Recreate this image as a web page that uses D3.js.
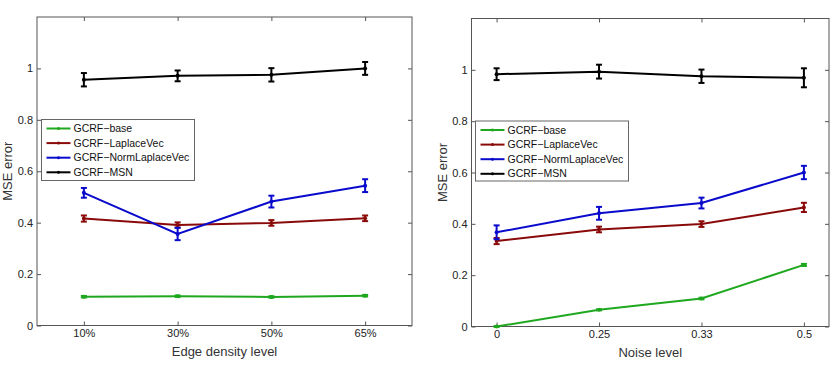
<!DOCTYPE html>
<html>
<head>
<meta charset="utf-8">
<script src="https://cdn.jsdelivr.net/npm/d3@7"></script>
<style>
  body { margin: 0; background: #fff; }
  svg { display: block; font-family: "Liberation Sans", Arial, sans-serif; }
</style>
</head>
<body>
<div id="chart"></div>
<script>
// Series names and colours (shared by both panels)
const seriesNames = ["GCRF\u2212base", "GCRF\u2212LaplaceVec", "GCRF\u2212NormLaplaceVec", "GCRF\u2212MSN"];
const seriesColors = ["#1fa81f", "#8a0a0a", "#0a0acc", "#000000"];
const yTicks = [0, 0.2, 0.4, 0.6, 0.8, 1];

// Left panel: edge density
const densityLabels = ["10%", "30%", "50%", "65%"];
const densityMean = [
  [0.112, 0.114, 0.111, 0.116],
  [0.416, 0.391, 0.399, 0.417],
  [0.516, 0.356, 0.482, 0.544],
  [0.956, 0.971, 0.975, 1.000]
];
const densityErr = [
  [0.003, 0.003, 0.003, 0.003],
  [0.012, 0.010, 0.011, 0.011],
  [0.019, 0.024, 0.023, 0.025],
  [0.026, 0.021, 0.026, 0.025]
];

// Right panel: noise level
const noiseLabels = ["0", "0.25", "0.33", "0.5"];
const noiseMean = [
  [0.000, 0.065, 0.109, 0.240],
  [0.333, 0.378, 0.399, 0.464],
  [0.367, 0.441, 0.481, 0.600],
  [0.983, 0.993, 0.975, 0.969]
];
const noiseErr = [
  [0.002, 0.002, 0.003, 0.004],
  [0.012, 0.011, 0.011, 0.018],
  [0.027, 0.025, 0.021, 0.026],
  [0.023, 0.027, 0.026, 0.037]
];

const svg = d3.select("#chart").append("svg")
  .attr("width", 830)
  .attr("height", 367);

function drawPanel(opt) {
  const { left, right, top, bottom, labels, mean, err, xDomain, xTitle, legendBox } = opt;
  const g = svg.append("g");
  const width = right - left;
  const height = bottom - top;

  const x = d3.scaleLinear().domain(xDomain).range([left, right]);
  const y = d3.scaleLinear().domain([0, 1.2]).range([bottom, top]);
  const idx = labels.map((d, i) => i + 1);
  const axisColor = "#555";
  const tickLen = 4;

  // inward ticks on all four sides
  g.append("g")
    .attr("transform", `translate(0,${bottom})`)
    .call(d3.axisBottom(x).tickValues(idx).tickSizeInner(-tickLen).tickSizeOuter(0)
      .tickPadding(4).tickFormat((d, i) => labels[i]))
    .call(a => a.select(".domain").remove());
  g.append("g")
    .attr("transform", `translate(0,${top})`)
    .call(d3.axisTop(x).tickValues(idx).tickSizeInner(-tickLen).tickSizeOuter(0).tickFormat(""))
    .call(a => a.select(".domain").remove());
  g.append("g")
    .attr("transform", `translate(${left},0)`)
    .call(d3.axisLeft(y).tickValues(yTicks).tickSizeInner(-tickLen).tickSizeOuter(0)
      .tickPadding(4).tickFormat(d3.format("~g")))
    .call(a => a.select(".domain").remove());
  g.append("g")
    .attr("transform", `translate(${right},0)`)
    .call(d3.axisRight(y).tickValues(yTicks).tickSizeInner(-tickLen).tickSizeOuter(0).tickFormat(""))
    .call(a => a.select(".domain").remove());

  g.selectAll(".tick line").attr("stroke", axisColor);
  g.selectAll(".tick text").attr("fill", "#222").style("font-size", "11px");

  g.append("rect")
    .attr("x", left).attr("y", top)
    .attr("width", width).attr("height", height)
    .attr("fill", "none").attr("stroke", axisColor).attr("stroke-width", 1);

  // axis titles
  g.append("text")
    .attr("x", (left + right) / 2).attr("y", bottom + 30)
    .attr("text-anchor", "middle").attr("fill", "#333")
    .style("font-size", "13px").text(xTitle);
  g.append("text")
    .attr("transform", `translate(${left - 25},${(top + bottom) / 2}) rotate(-90)`)
    .attr("text-anchor", "middle").attr("fill", "#333")
    .style("font-size", "13px").text("MSE error");

  const line = d3.line().x((d, i) => x(i + 1)).y(d => y(d));

  mean.forEach((vals, s) => {
    const color = seriesColors[s];
    g.append("path")
      .datum(vals)
      .attr("fill", "none")
      .attr("stroke", color)
      .attr("stroke-width", 2)
      .attr("d", line);

    const bars = g.selectAll(null).data(vals).enter().append("g");
    const cap = 3;
    bars.append("line")
      .attr("x1", (d, i) => x(i + 1)).attr("x2", (d, i) => x(i + 1))
      .attr("y1", (d, i) => y(d - err[s][i])).attr("y2", (d, i) => y(d + err[s][i]))
      .attr("stroke", color).attr("stroke-width", 2);
    bars.append("line")
      .attr("x1", (d, i) => x(i + 1) - cap).attr("x2", (d, i) => x(i + 1) + cap)
      .attr("y1", (d, i) => y(d - err[s][i])).attr("y2", (d, i) => y(d - err[s][i]))
      .attr("stroke", color).attr("stroke-width", 2);
    bars.append("line")
      .attr("x1", (d, i) => x(i + 1) - cap).attr("x2", (d, i) => x(i + 1) + cap)
      .attr("y1", (d, i) => y(d + err[s][i])).attr("y2", (d, i) => y(d + err[s][i]))
      .attr("stroke", color).attr("stroke-width", 2);
    bars.append("circle")
      .attr("cx", (d, i) => x(i + 1)).attr("cy", d => y(d))
      .attr("r", 2).attr("fill", color);
  });

  // legend
  const lg = g.append("g").attr("transform", `translate(${legendBox.x},${legendBox.y})`);
  lg.append("rect")
    .attr("width", legendBox.w).attr("height", legendBox.h)
    .attr("fill", "#fff").attr("stroke", "#666").attr("stroke-width", 1);
  seriesNames.forEach((name, s) => {
    const ry = 9 + s * 14.6;
    lg.append("line")
      .attr("x1", 5).attr("x2", 29).attr("y1", ry).attr("y2", ry)
      .attr("stroke", seriesColors[s]).attr("stroke-width", 2);
    lg.append("circle")
      .attr("cx", 17).attr("cy", ry).attr("r", 1.5).attr("fill", seriesColors[s]);
    lg.append("text")
      .attr("x", 32).attr("y", ry).attr("dy", "0.35em")
      .attr("fill", "#111").style("font-size", "10.5px").text(name);
  });
}

drawPanel({
  left: 37, right: 412, top: 17, bottom: 325.5,
  labels: densityLabels, mean: densityMean, err: densityErr,
  xDomain: [0.5, 4.5], xTitle: "Edge density level",
  legendBox: { x: 41.5, y: 119.5, w: 153, h: 61 }
});

drawPanel({
  left: 471.5, right: 829, top: 18.5, bottom: 326.5,
  labels: noiseLabels, mean: noiseMean, err: noiseErr,
  xDomain: [0.755, 4.245], xTitle: "Noise level",
  legendBox: { x: 475.5, y: 121, w: 153, h: 60 }
});
</script>
</body>
</html>
